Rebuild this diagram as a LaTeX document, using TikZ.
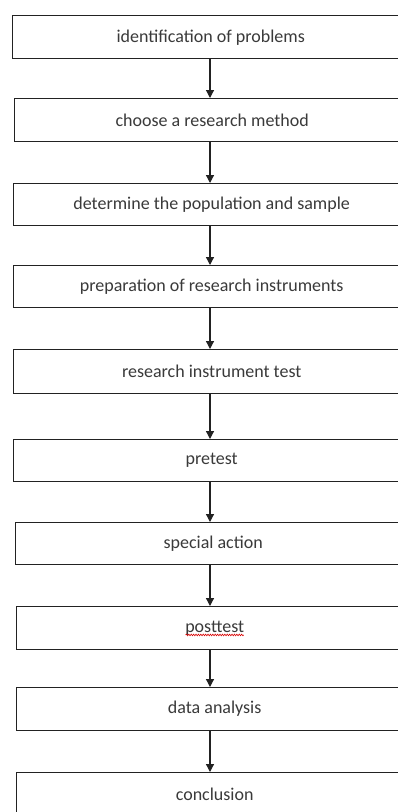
\documentclass[tikz,border=0pt]{standalone}
\usepackage{fontspec}
\setmainfont{Carlito}
\usetikzlibrary{arrows.meta,decorations.pathmorphing}
\definecolor{txt}{HTML}{3A3A3A}
\definecolor{ln}{HTML}{222222}
\tikzset{
  stepbox/.style={draw=ln, line width=1.4pt, fill=white, anchor=north west,
    minimum width=396pt, minimum height=43pt, inner sep=0pt,
    text=txt, font=\fontsize{18}{20}\selectfont},
  flow/.style={draw=ln, line width=1.2pt, -{Triangle[width=8pt,length=8pt]}}
}
\begin{document}
\begin{tikzpicture}
\fill[white] (0,0) rectangle (398pt,-812pt);
\clip (0,0) rectangle (398pt,-812pt);
\coordinate (ax) at (210pt,0);
\node[stepbox] (b1) at (12pt,-15pt) {identification of problems};
\node[stepbox] (b2) at (13.5pt,-98pt) {choose a research method};
\node[stepbox, minimum height=42pt] (b3) at (13pt,-183pt) {determine the population and sample};
\node[stepbox, minimum height=42pt] (b4) at (13pt,-265pt) {preparation of research instruments};
\node[stepbox, minimum height=44pt] (b5) at (13pt,-349pt) {research instrument test};
\node[stepbox, minimum height=42pt] (b6) at (13pt,-439pt) {pretest};
\node[stepbox, minimum height=42pt] (b7) at (14.5pt,-522pt) {special action};
\node[stepbox, minimum height=42.5pt] (b8) at (16pt,-606pt) {posttest};
\node[stepbox, minimum height=42.5pt] (b9) at (16pt,-687pt) {data analysis};
\node[stepbox] (b10) at (16pt,-772pt) {conclusion};
\draw[red!85!black, line width=0.6pt, decorate,
  decoration={snake, segment length=2.4pt, amplitude=0.8pt}]
  ([xshift=-29pt,yshift=-7pt]b8.center) -- ([xshift=29pt,yshift=-7pt]b8.center);
\foreach \a/\b in {b1/b2,b2/b3,b3/b4,b4/b5,b5/b6,b6/b7,b7/b8,b8/b9,b9/b10}{
  \draw[flow] (\a.south -| ax) -- (\b.north -| ax);
}
\end{tikzpicture}
\end{document}
